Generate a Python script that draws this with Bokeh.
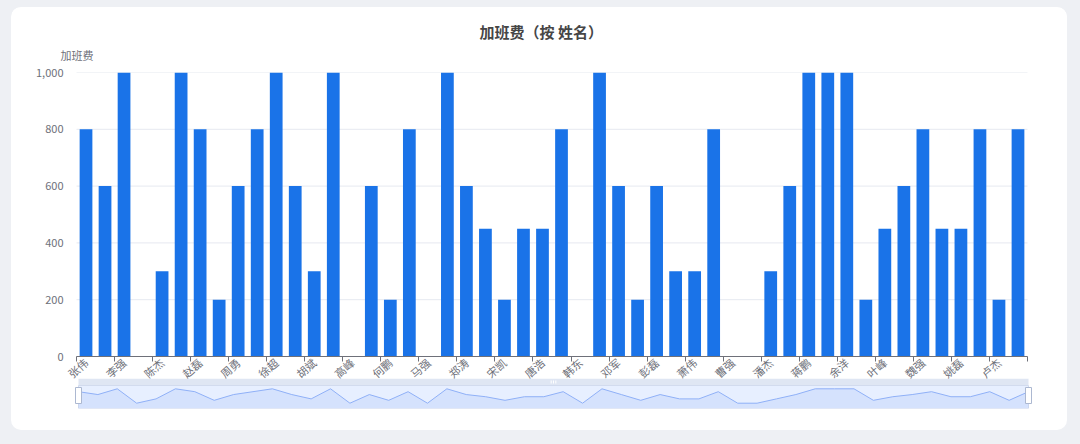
import re
import numpy as np
from bokeh.plotting import figure
from bokeh.models import (Range1d, FixedTicker, CustomJSTickFormatter,
                          NumeralTickFormatter, Title, ColumnDataSource)
from bokeh.layouts import column
from bokeh.embed import file_html
from bokeh.resources import INLINE

# ---------------- data ----------------
title_text = "加班费（按 姓名）"
y_name = "加班费"
tick_labels = ["张伟", "李强", "陈杰", "赵磊", "周勇", "徐超", "胡斌", "高峰", "何鹏",
               "马强", "郑涛", "宋凯", "唐浩", "韩东", "邓军", "彭磊", "萧伟", "曹强",
               "潘杰", "蒋鹏", "余洋", "叶峰", "魏强", "姚磊", "卢杰"]
values = [800, 600, 1000, 0, 300, 1000, 800, 200, 600, 800,
          1000, 600, 300, 1000, 0, 600, 200, 800, 0, 1000,
          600, 450, 200, 450, 450, 800, 0, 1000, 600, 200,
          600, 300, 300, 800, 0, 0, 300, 600, 1000, 1000,
          1000, 200, 450, 600, 800, 450, 450, 800, 200, 800]
y_ticks = [0, 200, 400, 600, 800, 1000]

N = len(values)
FONT = "Noto Sans CJK SC"
AXIS_C = "#6E7079"
BAR_C = "#1a73e8"
GRID_C = "#E6E9F0"

src = ColumnDataSource(dict(x=np.arange(N) + 0.5, idx=np.arange(N), v=values))
grid_src = ColumnDataSource(dict(y=y_ticks, x0=[0] * len(y_ticks), x1=[N] * len(y_ticks)))

# frame (shared by both figures) spans page x 72..1034; bar axis spans 76..1027
cw = 951 / N
x_lo = -4 / cw
x_hi = N + 7 / cw

# ---------------- main chart ----------------
p = figure(width=1056, height=389, x_range=Range1d(x_lo, x_hi), y_range=Range1d(0, 1000),
           output_backend="svg", toolbar_location=None,
           min_border_left=61, min_border_right=33, min_border_top=65, min_border_bottom=40)
p.outline_line_color = None
p.background_fill_color = "white"
p.border_fill_color = "white"
p.xgrid.grid_line_color = None
p.ygrid.grid_line_color = None

p.segment(x0="x0", x1="x1", y0="y", y1="y", source=grid_src, line_color=GRID_C, line_width=1)
p.vbar(x="x", top="v", width=0.67, source=src, fill_color=BAR_C, line_color=None)

xa = p.xaxis[0]
xa.bounds = (0, N)
xa.ticker = FixedTicker(ticks=[i + 0.5 for i in range(0, N, 2)],
                        minor_ticks=list(range(0, N + 1, 2)))
xa.formatter = CustomJSTickFormatter(args=dict(labels=tick_labels),
                                     code="return labels[Math.round((tick - 0.5) / 2)] || ''")
xa.major_tick_out = 0
xa.major_tick_in = 0
xa.minor_tick_out = 5
xa.minor_tick_in = 0
xa.axis_line_color = AXIS_C
xa.minor_tick_line_color = AXIS_C
xa.major_label_orientation = 0.72
xa.major_label_text_font = FONT
xa.major_label_text_font_size = "11px"
xa.major_label_text_color = AXIS_C
xa.major_label_standoff = -1

ya = p.yaxis[0]
ya.ticker = FixedTicker(ticks=y_ticks)
ya.formatter = NumeralTickFormatter(format="0,0")
ya.axis_line_color = None
ya.major_tick_line_color = None
ya.minor_tick_line_color = None
ya.major_label_text_font = FONT
ya.major_label_text_font_size = "11px"
ya.major_label_text_color = AXIS_C
ya.major_label_standoff = 3

p.add_layout(Title(text=y_name, align="left", offset=-12, standoff=19,
                   text_font=FONT, text_font_size="11px", text_font_style="normal",
                   text_color=AXIS_C), "above")
p.add_layout(Title(text=title_text, align="left", offset=407, standoff=-13,
                   text_font=FONT, text_font_size="15px", text_font_style="bold",
                   text_color="#464646"), "above")
p.add_layout(Title(text=" ", standoff=4, text_font_size="1px"), "above")

# ---------------- slider (data zoom) ----------------
sx = 950 / (N - 1)
k = 1000 / 14.4
y_top = 1000 + (388.3 - 378) * k
y_bot = 0 - (408 - 402.7) * k
s = figure(width=1056, height=53, x_range=Range1d(-6 / sx, N - 1 + 6 / sx),
           y_range=Range1d(y_bot, y_top), output_backend="svg", toolbar_location=None,
           x_axis_type=None, y_axis_type=None,
           min_border_left=61, min_border_right=33, min_border_top=1, min_border_bottom=22,
           styles={"margin-top": "-19px"})
s.outline_line_color = None
s.grid.visible = False
s.background_fill_color = None
s.border_fill_color = None

band_bot = y_top - 7 * k
s.quad(left=[0], right=[N - 1], bottom=[y_bot], top=[band_bot],
       fill_color="#87afff", fill_alpha=0.2, line_color="#d2dbee", line_width=1)
s.varea(x="idx", y1=y_bot, y2="v", source=src, fill_color="#8fb0f7", fill_alpha=0.2)
s.line(x="idx", y="v", source=src, line_color="#8fb0f7", line_width=1)
s.quad(left=[0], right=[N - 1], bottom=[band_bot], top=[y_top],
       fill_color="#D2DBEE", fill_alpha=0.7, line_color=None)
mid = (N - 1) / 2
s.rect(x=[mid - 0.12, mid, mid + 0.12], y=[(band_bot + y_top) / 2] * 3,
       width=1, height=3, width_units="screen", height_units="screen",
       fill_color="white", line_color=None)
hy = y_top - 17 * k
s.rect(x=[0, N - 1], y=[hy, hy], width=6, height=16,
       width_units="screen", height_units="screen",
       fill_color="white", line_color="#ACB8D1", line_width=1)

layout = column(p, s, spacing=0,
                styles={"background-color": "white", "border-radius": "10px",
                        "overflow": "hidden", "margin-left": "11px", "margin-top": "7px"})

html = file_html(layout, INLINE)
css = "<style>html, body { margin: 0 !important; background-color: #eef0f4 !important; }</style>"
html = html.replace("</head>", css + "</head>", 1)
html = re.sub(r"<body([^>]*)>", r'<body\1 style="background-color:#eef0f4;margin:0;">', html, count=1)
open("out.html", "w").write(html)
